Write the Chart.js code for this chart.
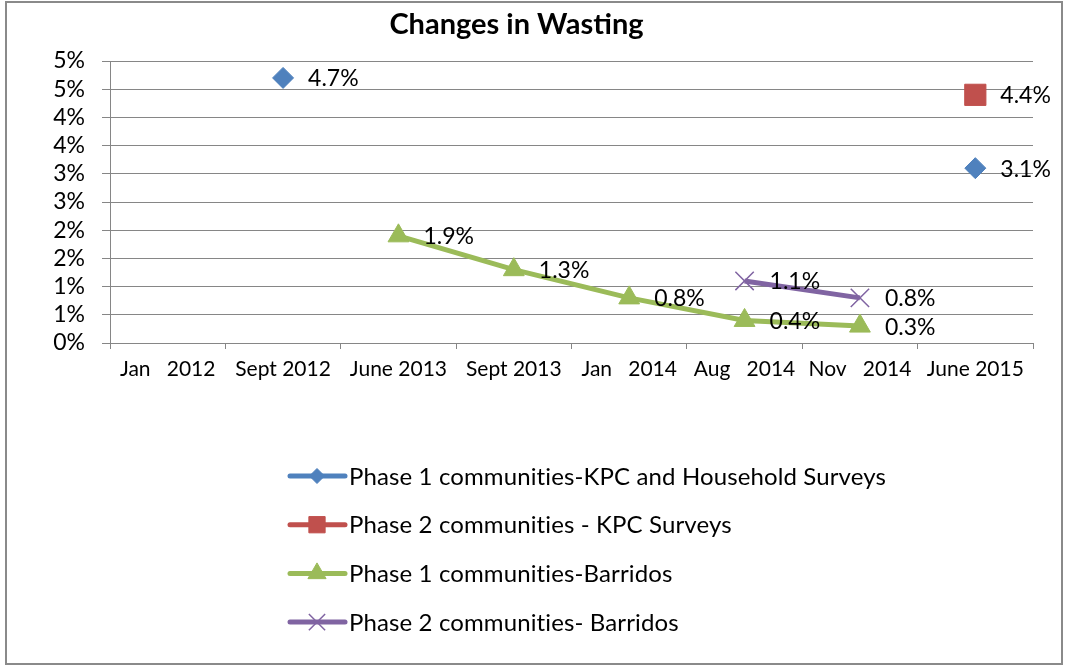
<!DOCTYPE html>
<html><head><meta charset="utf-8">
<script src="https://cdn.jsdelivr.net/npm/chart.js@4.4.1/dist/chart.umd.min.js"></script>
<style>html,body{margin:0;padding:0;background:#fff;overflow:hidden}</style>
</head><body>
<canvas id="c" width="1067" height="667"></canvas>
<script>
// ---- data ----
const categories = ["Jan   2012", "Sept 2012", "June 2013", "Sept 2013", "Jan   2014", "Aug   2014", "Nov   2014", "June 2015"];
const seriesNames = [
  "Phase 1 communities-KPC and Household Surveys",
  "Phase 2 communities - KPC Surveys",
  "Phase 1 communities-Barridos",
  "Phase 2 communities- Barridos"
];
const phase1KPC      = [null, 4.7, null, null, null, null, null, 3.1];
const phase2KPC      = [null, null, null, null, null, null, null, 4.4];
const phase1Barridos = [null, null, 1.9, 1.3, 0.8, 0.4, 0.3, null];
const phase2Barridos = [null, null, null, null, null, 1.1, 0.8, null];
const yMin = 0, yMax = 5, yStep = 0.5;

// ---- styling ----
const FONT = 'Lato';
const colors = ['#4F81BD', '#C0504D', '#9BBB59', '#8064A2'];
const styles = ['rectRot', 'rect', 'triangle', 'crossRot'];
const radii = [10.5, 15, 12, 13];
const legendRadii = [7.5, 11.5, 10.5, 11.5];

const seriesData = [phase1KPC, phase2KPC, phase1Barridos, phase2Barridos];
const datasets = seriesData.map((d, i) => ({
  label: seriesNames[i],
  data: d,
  borderColor: colors[i],
  backgroundColor: colors[i],
  borderWidth: 5,
  pointStyle: styles[i],
  pointRadius: radii[i],
  pointHoverRadius: radii[i],
  pointBackgroundColor: colors[i],
  pointBorderColor: colors[i],
  pointBorderWidth: i === 3 ? 1.5 : 1,
  tension: 0,
  spanGaps: false,
  fill: false
}));

const frame = {
  id: 'frame',
  beforeDraw(chart) {
    const ctx = chart.ctx;
    ctx.save();
    ctx.fillStyle = '#fff';
    ctx.fillRect(0, 0, chart.width, chart.height);
    ctx.restore();
  },
  afterDraw(chart) {
    const ctx = chart.ctx;
    ctx.save();
    ctx.strokeStyle = '#8a8a8a';
    ctx.lineWidth = 2;
    ctx.strokeRect(6, 2, 1056, 662);
    ctx.restore();
  }
};

const dataLabels = {
  id: 'dataLabels',
  afterDatasetsDraw(chart) {
    const ctx = chart.ctx;
    ctx.save();
    ctx.font = '23px ' + FONT;
    ctx.fillStyle = '#000';
    ctx.textAlign = 'left';
    ctx.textBaseline = 'middle';
    chart.data.datasets.forEach((ds, i) => {
      const meta = chart.getDatasetMeta(i);
      meta.data.forEach((el, j) => {
        const v = ds.data[j];
        if (v === null || v === undefined) return;
        ctx.fillText(v.toFixed(1) + '%', el.x + 25, el.y + 1);
      });
    });
    ctx.restore();
  }
};

const customLegend = {
  id: 'customLegend',
  afterDraw(chart) {
    const ctx = chart.ctx;
    const x0 = 290, x1 = 345, mx = 317, tx = 349, y0 = 476, dy = 48.7;
    chart.data.datasets.forEach((ds, i) => {
      const y = y0 + i * dy;
      ctx.save();
      ctx.strokeStyle = ds.borderColor;
      ctx.lineWidth = 5;
      ctx.lineCap = 'round';
      ctx.beginPath();
      ctx.moveTo(x0, y);
      ctx.lineTo(x1, y);
      ctx.stroke();
      ctx.fillStyle = ds.pointBackgroundColor;
      ctx.strokeStyle = ds.pointBorderColor;
      ctx.lineWidth = ds.pointBorderWidth;
      ctx.lineCap = 'butt';
      Chart.helpers.drawPoint(ctx, {pointStyle: ds.pointStyle, radius: legendRadii[i], borderWidth: ds.pointBorderWidth, rotation: 0}, mx, y);
      ctx.fillStyle = '#000';
      ctx.font = '24px ' + FONT;
      if ('letterSpacing' in ctx) ctx.letterSpacing = '0.12px';
      ctx.textAlign = 'left';
      ctx.textBaseline = 'middle';
      ctx.fillText(ds.label, tx, y + 1);
      ctx.restore();
    });
  }
};

new Chart(document.getElementById('c'), {
  type: 'line',
  data: { labels: categories, datasets },
  plugins: [frame, dataLabels, customLegend],
  options: {
    responsive: false,
    animation: false,
    devicePixelRatio: 1,
    layout: { padding: { left: 0, right: 34, top: 0, bottom: 282 } },
    plugins: {
      legend: { display: false },
      tooltip: { enabled: false },
      title: {
        display: true,
        text: 'Changes in Wasting',
        color: '#000',
        font: { family: FONT, size: 29, weight: 'bold' },
        padding: { top: 7, bottom: 19.2 }
      }
    },
    scales: {
      x: {
        type: 'category',
        offset: true,
        grid: { display: true, drawOnChartArea: false, drawTicks: true, tickLength: 6, offset: true, color: '#868686', lineWidth: 1 },
        border: { display: true, color: '#868686', width: 1 },
        ticks: { color: '#000', font: { family: FONT, size: 21 }, padding: 8, maxRotation: 0, autoSkip: false },
        afterFit(s) { s.height = 42; }
      },
      y: {
        min: yMin, max: yMax,
        grid: { display: true, drawTicks: true, tickLength: 8, color: '#868686', lineWidth: 1 },
        border: { display: true, color: '#868686', width: 1 },
        ticks: {
          stepSize: yStep,
          autoSkip: false,
          color: '#000',
          font: { family: FONT, size: 23, lineHeight: 1 },
          padding: 17,
          callback: v => Math.round(v) + '%'
        },
        afterFit(s) { s.width = 110; }
      }
    }
  }
});
</script>
</body></html>
